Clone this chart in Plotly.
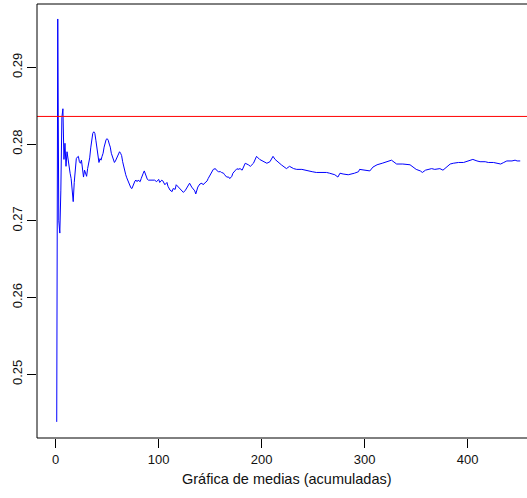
import plotly.graph_objects as go

# Cumulative means (index, value)
early_idx = list(range(1, 91))
early_val = [
    0.2438, 0.2963, 0.2700, 0.2684, 0.2740, 0.2835, 0.2846, 0.2780, 0.2801, 0.2771,
    0.2790, 0.2779, 0.2775, 0.2762, 0.2755, 0.2740, 0.2725, 0.2750, 0.2770, 0.2781,
    0.2783, 0.2784, 0.2777, 0.2775, 0.2779, 0.2768, 0.2757, 0.2766, 0.2762, 0.2758,
    0.2768, 0.2775, 0.2782, 0.2795, 0.2806, 0.2814, 0.2816, 0.2814, 0.2805, 0.2795,
    0.2780, 0.2776, 0.2781, 0.2779, 0.2784, 0.2788, 0.2796, 0.2801, 0.2806, 0.2807,
    0.2805, 0.2800, 0.2796, 0.2788, 0.2783, 0.2781, 0.2776, 0.2778, 0.2781, 0.2784,
    0.2786, 0.2790, 0.2788, 0.2785, 0.2777, 0.2770, 0.2766, 0.2760, 0.2756, 0.2752,
    0.2748, 0.2746, 0.2743, 0.2742, 0.2746, 0.2749, 0.2752, 0.2753, 0.2751, 0.2753,
    0.2752, 0.2751, 0.2755, 0.2760, 0.2762, 0.2765, 0.2761, 0.2757, 0.2754, 0.2753,
]
late_idx = [
    96, 98, 100, 101, 103, 104, 106, 108, 109, 111, 113, 114, 116, 117, 119, 121, 122, 124,
    126, 127, 129, 130, 132, 134, 135, 136, 137, 138, 140, 142, 143, 145, 147, 148, 150, 151,
    153, 155, 156, 158, 160, 161, 163, 164, 166, 168, 169, 171, 172, 174, 176, 177, 179, 181,
    182, 184, 187, 189, 192, 195, 198, 202, 205, 208, 211, 213, 216, 219, 224, 227, 231, 234,
    239, 244, 249, 253, 258, 263, 266, 271, 274, 276, 279, 284, 290, 294, 295, 302, 305, 308,
    312, 317, 323, 326, 331, 337, 344, 350, 354, 356, 359, 365, 368, 373, 376, 380, 383, 386,
    391, 396, 399, 402, 405, 409, 412, 417, 420, 425, 430, 432, 435, 438, 443, 446, 448, 451,
]
late_val = [
    0.2753, 0.2751, 0.2754, 0.2750, 0.2753, 0.2752, 0.2747, 0.2750, 0.2745, 0.2740, 0.2738, 0.2742,
    0.2741, 0.2747, 0.2744, 0.2741, 0.2739, 0.2737, 0.2740, 0.2742, 0.2747, 0.2749, 0.2744, 0.2741,
    0.2739, 0.2735, 0.2740, 0.2744, 0.2748, 0.2749, 0.2747, 0.2749, 0.2752, 0.2755, 0.2760, 0.2764,
    0.2767, 0.2768, 0.2766, 0.2764, 0.2764, 0.2763, 0.2762, 0.2760, 0.2757, 0.2757, 0.2755, 0.2758,
    0.2762, 0.2765, 0.2768, 0.2767, 0.2768, 0.2766, 0.2770, 0.2775, 0.2773, 0.2771, 0.2775, 0.2784,
    0.2780, 0.2777, 0.2775, 0.2777, 0.2784, 0.2780, 0.2776, 0.2773, 0.2768, 0.2771, 0.2768, 0.2767,
    0.2767, 0.2765, 0.2764, 0.2763, 0.2763, 0.2763, 0.2762, 0.2760, 0.2757, 0.2762, 0.2761, 0.2760,
    0.2762, 0.2764, 0.2767, 0.2766, 0.2765, 0.2770, 0.2773, 0.2775, 0.2777, 0.2779, 0.2774, 0.2774,
    0.2773, 0.2767, 0.2765, 0.2763, 0.2766, 0.2768, 0.2767, 0.2768, 0.2766, 0.2770, 0.2774, 0.2775,
    0.2776, 0.2776, 0.2777, 0.2778, 0.2780, 0.2778, 0.2777, 0.2777, 0.2776, 0.2776, 0.2775, 0.2774,
    0.2776, 0.2778, 0.2778, 0.2779, 0.2778, 0.2778,
]
reference_level = 0.2836

x_ticks = [0, 100, 200, 300, 400]
y_ticks = [0.25, 0.26, 0.27, 0.28, 0.29]
y_tick_labels = ["0.25", "0.26", "0.27", "0.28", "0.29"]
x_title = "Gráfica de medias (acumuladas)"

idx = early_idx + late_idx
vals = early_val + late_val

fig = go.Figure()
fig.add_trace(go.Scatter(x=idx, y=vals, mode="lines",
                         line=dict(color="#0000FF", width=1), showlegend=False,
                         hoverinfo="skip"))
fig.add_hline(y=reference_level, line=dict(color="#FF0000", width=1))

frame = dict(color="black", width=1)
fig.add_shape(type="line", xref="paper", yref="paper", x0=0, x1=0, y0=0, y1=1, line=frame)
fig.add_shape(type="line", xref="paper", yref="paper", x0=0, x1=1.05, y0=0, y1=0, line=frame)
fig.add_shape(type="line", xref="paper", yref="paper", x0=0, x1=1.05, y0=1, y1=1, line=frame)

tick_font = dict(family="Liberation Sans, Arial, sans-serif", size=13, color="#111111")
fig.update_layout(
    width=527, height=498,
    margin=dict(l=37, r=0, t=4, b=60, pad=0),
    paper_bgcolor="white", plot_bgcolor="white",
    showlegend=False,
    xaxis=dict(range=[-18.16, 457.57], tickvals=x_ticks, ticks="outside", ticklen=9,
               tickwidth=1, tickcolor="black", showline=False, showgrid=False,
               zeroline=False, tickfont=tick_font, automargin=False),
    yaxis=dict(range=[0.2417, 0.29825], tickvals=y_ticks, ticktext=y_tick_labels,
               ticks="outside", ticklen=9, tickwidth=1, tickcolor="black",
               showline=False, showgrid=False, zeroline=False, tickangle=-90,
               tickfont=tick_font, automargin=False),
    annotations=[dict(text=x_title, xref="paper", yref="paper", x=0.5106, y=-0.0956,
                      xanchor="center", yanchor="middle", showarrow=False,
                      font=dict(family="Liberation Sans, Arial, sans-serif", size=14.5,
                                color="#111111"))],
)

fig.write_html("out.html")
